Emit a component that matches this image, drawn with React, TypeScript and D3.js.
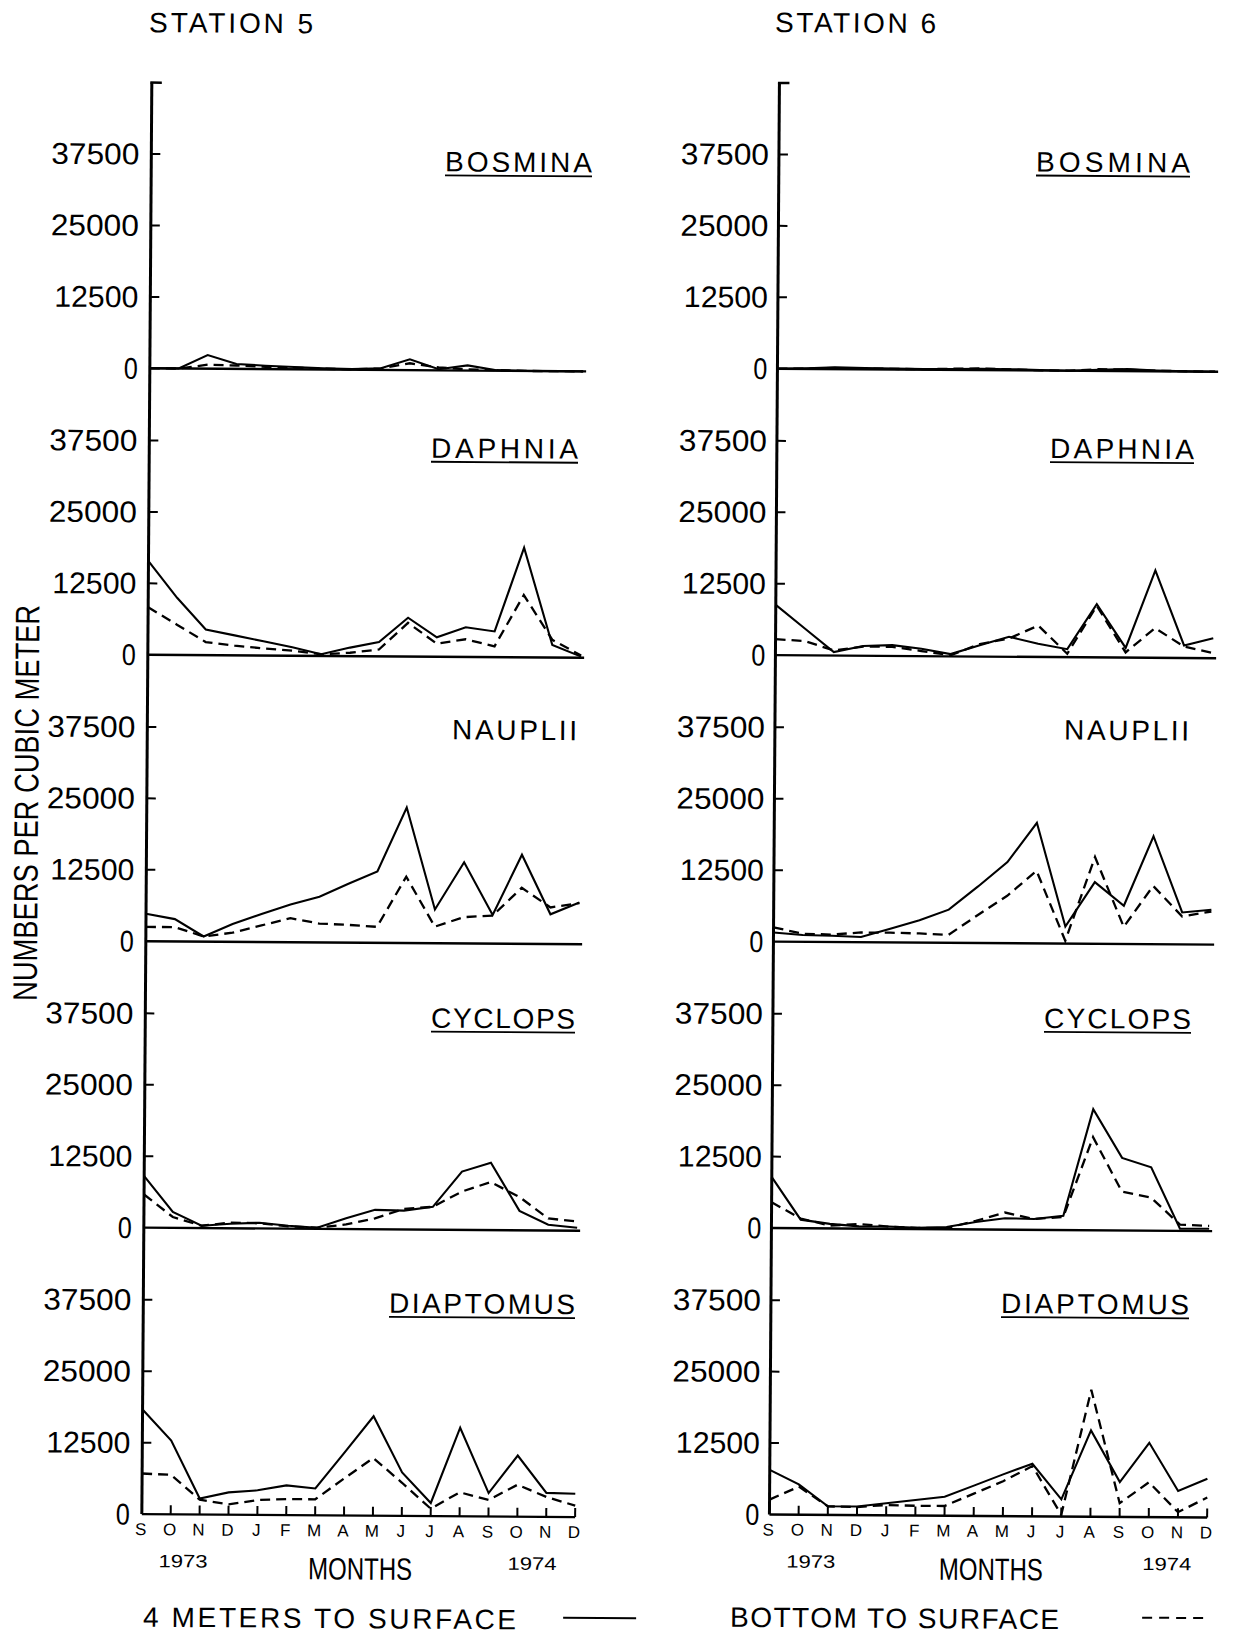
import React from "react";
import * as d3 from "d3";

// ---------- data ----------
const MONTHS = ["S", "O", "N", "D", "J", "F", "M", "A", "M", "J", "J", "A", "S", "O", "N", "D"];
const YEARS = ["1973", "1974"];
const TAXA = ["BOSMINA", "DAPHNIA", "NAUPLII", "CYCLOPS", "DIAPTOMUS"];
const UNDERLINED = [true, true, false, true, true];
const Y_TICKS = [0, 12500, 25000, 37500];
const STATIONS = ["STATION 5", "STATION 6"];
const SERIES_NAMES = ["4 METERS TO SURFACE", "BOTTOM TO SURFACE"];
const AXIS_TITLE = "NUMBERS PER CUBIC METER";
const X_TITLE = "MONTHS";

// Station 5 (solid = 4 m to surface, dashed = bottom to surface)
const s5Bosmina4m = [0, 0, 2400, 850, 600, 400, 200, 100, 300, 1900, 200, 900, 100, 0, 0, 0];
const s5BosminaBot = [0, 0, 700, 600, 400, 300, 150, 50, 250, 1200, 500, 200, 100, 0, 0, 0];
const s5Daphnia4m = [16400, 10000, 4500, 3500, 2500, 1500, 300, 1500, 2500, 6800, 3400, 5200, 4500, 19200, 2200, 200];
const s5DaphniaBot = [8300, 5300, 2300, 1700, 1250, 900, 300, 600, 1200, 5900, 2300, 3100, 1900, 10900, 3100, 400];
const s5Nauplii4m = [4800, 3900, 900, 3100, 4900, 6600, 8000, 10300, 12500, 23700, 5900, 14200, 5000, 15600, 5200, 7300];
const s5NaupliiBot = [2500, 2500, 900, 1600, 2900, 4200, 3300, 3100, 2800, 11600, 2900, 4600, 4900, 9800, 6400, 7200];
const s5Cyclops4m = [9000, 2800, 400, 800, 1000, 500, 200, 1900, 3400, 3300, 4000, 10200, 11800, 3400, 1000, 500];
const s5CyclopsBot = [5800, 1900, 400, 1000, 900, 400, 200, 800, 1900, 3600, 4000, 6700, 8400, 5800, 2100, 1600];
const s5Diaptomus4m = [18300, 12900, 2800, 3900, 4300, 5200, 4700, 11000, 17400, 7600, 2300, 15500, 4100, 10700, 4200, 4100];
const s5DiaptomusBot = [7100, 6900, 2600, 1800, 2600, 2800, 2800, 6500, 10100, 5800, 1300, 4200, 2900, 5600, 3500, 2000];

// Station 6
const s6Bosmina4m = [0, 100, 300, 200, 150, 100, 150, 250, 200, 100, 0, 200, 350, 150, 50, 0];
const s6BosminaBot = [0, 50, 200, 150, 100, 100, 200, 300, 150, 50, 0, 300, 250, 100, 50, 0];
const s6Daphnia4m = [8800, 4700, 600, 1700, 1900, 1300, 400, 2000, 3500, 2300, 1400, 9300, 1700, 15300, 2200, 3500];
const s6DaphniaBot = [2800, 2500, 900, 1600, 1600, 900, 200, 2200, 3200, 5500, 600, 9000, 900, 5200, 2000, 900];
const s6Nauplii4m = [1600, 1200, 1100, 900, 2400, 3900, 5800, 9900, 14200, 21100, 3000, 10800, 6700, 18900, 5600, 6100];
const s6NaupliiBot = [2500, 1400, 1300, 1700, 1700, 1600, 1400, 4900, 8300, 12700, 500, 15200, 3000, 10200, 4900, 5800];
const s6Cyclops4m = [8900, 1500, 800, 400, 400, 200, 400, 1300, 2000, 1900, 2500, 21200, 12700, 11100, 400, 400];
const s6CyclopsBot = [4500, 1700, 500, 800, 400, 200, 200, 1500, 3000, 1900, 2300, 16300, 6800, 5800, 1100, 900];
const s6Diaptomus4m = [7800, 5300, 1500, 1500, 2100, 2700, 3300, 5300, 7300, 9200, 3000, 15100, 6100, 13000, 4600, 6800];
const s6DiaptomusBot = [2600, 4900, 1500, 1400, 1800, 1700, 1700, 3900, 6100, 8800, 300, 22200, 2400, 6100, 900, 3500];

const SERIES = [
  [
    [s5Bosmina4m, s5BosminaBot],
    [s5Daphnia4m, s5DaphniaBot],
    [s5Nauplii4m, s5NaupliiBot],
    [s5Cyclops4m, s5CyclopsBot],
    [s5Diaptomus4m, s5DiaptomusBot],
  ],
  [
    [s6Bosmina4m, s6BosminaBot],
    [s6Daphnia4m, s6DaphniaBot],
    [s6Nauplii4m, s6NaupliiBot],
    [s6Cyclops4m, s6CyclopsBot],
    [s6Diaptomus4m, s6DiaptomusBot],
  ],
];

// ---------- layout ----------
const W = 1238;
const H = 1636;
const ROT = 0.4;
const PANEL_STEP = 286.45;
const SPAN_37500 = 214.3;
const FONT = "'Liberation Sans Narrow', 'Liberation Sans', Arial, sans-serif";
const LABEL_DY = [199, 199, 204, 202, 203];

const LAYOUT = [
  {
    x0: 146.7, x1: 580.0, z0: 371.6, tickLabelGap: 12,
    titleX: 143.6, titleW: 164, titleY: 35.5,
    labelLeft: [440.5, 428.5, 451.5, 432.5, 392.5],
    labelRight: [587.5, 575.5, 576.5, 576.5, 578.5],
    yearX: [188.3, 537.3], monthsX: 365.3,
  },
  {
    x0: 774.3, x1: 1212.0, z0: 367.6, tickLabelGap: 10,
    titleX: 769.6, titleW: 161, titleY: 31.0,
    labelLeft: [1031.5, 1047.5, 1063.5, 1045.5, 1004.5],
    labelRight: [1185.5, 1191.5, 1188.5, 1192.5, 1192.5],
    yearX: [816.1, 1172.0], monthsX: 996.1,
  },
];

function tickWidth(label: string) {
  if (label === "0") return 14;
  return label.length * 17.6 - (label.startsWith("1") ? 4 : 0);
}

function StationPanel({ s }: { s: number }) {
  const L = LAYOUT[s];
  const x = d3.scaleLinear().domain([0, MONTHS.length - 1]).range([L.x0, L.x1]);
  const zero = (p: number) => L.z0 + p * PANEL_STEP;
  const yFor = (p: number) =>
    d3.scaleLinear().domain([0, 37500]).range([zero(p), zero(p) - SPAN_37500]);
  const last = TAXA.length - 1;
  const yTop = yFor(0)(50000);
  const zBottom = zero(last);

  return (
    <g>
      <text x={L.titleX} y={L.titleY} fontSize={28} textLength={L.titleW} lengthAdjust="spacing">
        {STATIONS[s]}
      </text>
      {/* vertical axis */}
      <line x1={L.x0} y1={yTop} x2={L.x0} y2={zBottom} stroke="#000" strokeWidth={3} />
      <line x1={L.x0 - 1.5} y1={yTop} x2={L.x0 + 10} y2={yTop} stroke="#000" strokeWidth={2.5} />
      {TAXA.map((name, p) => {
        const y = yFor(p);
        const line = d3
          .line<number>()
          .x((_, i) => x(i))
          .y((d) => y(d));
        const [solid, dashed] = SERIES[s][p];
        const lw = L.labelRight[p] - L.labelLeft[p];
        const base = zero(p) - LABEL_DY[p];
        return (
          <g key={name}>
            {Y_TICKS.map((t) => (
              <g key={t}>
                {t > 0 && (
                  <line x1={L.x0} y1={y(t)} x2={L.x0 + 9} y2={y(t)} stroke="#000" strokeWidth={2} />
                )}
                <text
                  x={L.x0 - L.tickLabelGap}
                  y={y(t) + 10.5}
                  fontSize={30}
                  textAnchor="end"
                  textLength={tickWidth(String(t))}
                  lengthAdjust="spacingAndGlyphs"
                >
                  {String(t)}
                </text>
              </g>
            ))}
            <line
              x1={L.x0}
              y1={y(0)}
              x2={p === last ? L.x1 : L.x1 + 3}
              y2={y(0)}
              stroke="#000"
              strokeWidth={2.4}
            />
            <path d={line(dashed) || ""} fill="none" stroke="#000" strokeWidth={2.3} strokeDasharray="10,6" />
            <path d={line(solid) || ""} fill="none" stroke="#000" strokeWidth={2.1} strokeLinejoin="miter" />
            <text x={L.labelLeft[p]} y={base} fontSize={28} textLength={lw} lengthAdjust="spacing">
              {name}
            </text>
            {UNDERLINED[p] && (
              <line x1={L.labelLeft[p]} y1={base + 4} x2={L.labelRight[p]} y2={base + 4} stroke="#000" strokeWidth={1.8} />
            )}
          </g>
        );
      })}
      {/* month ticks and labels on the bottom panel */}
      {MONTHS.map((m, i) => (
        <g key={i}>
          {i > 0 && (
            <line x1={x(i)} y1={zBottom} x2={x(i)} y2={zBottom - 9} stroke="#000" strokeWidth={2} />
          )}
          <text x={x(i) - 1} y={zBottom + 21} fontSize={17} textAnchor="middle">
            {m}
          </text>
        </g>
      ))}
      {YEARS.map((yr, k) => (
        <text
          key={yr}
          x={L.yearX[k]}
          y={zBottom + 53}
          fontSize={18}
          textAnchor="middle"
          textLength={49}
          lengthAdjust="spacingAndGlyphs"
        >
          {yr}
        </text>
      ))}
      <text
        x={L.monthsX}
        y={zBottom + 64}
        fontSize={31}
        textAnchor="middle"
        textLength={104}
        lengthAdjust="spacingAndGlyphs"
      >
        {X_TITLE}
      </text>
    </g>
  );
}

export default function App() {
  return (
    <svg
      width={W}
      height={H}
      viewBox={`0 0 ${W} ${H}`}
      style={{ position: "absolute", left: 0, top: 0, background: "#fff" }}
    >
      <rect x={0} y={0} width={W} height={H} fill="#fff" />
      <g transform={`rotate(${ROT} 619 818)`} fontFamily={FONT} fill="#000">
        <StationPanel s={0} />
        <StationPanel s={1} />
        <text
          transform="translate(38,807) rotate(-90)"
          fontSize={34}
          textAnchor="middle"
          textLength={396}
          lengthAdjust="spacingAndGlyphs"
        >
          {AXIS_TITLE}
        </text>
        {/* legend */}
        <text x={148.7} y={1630} fontSize={28} textLength={373} lengthAdjust="spacing">
          {SERIES_NAMES[0]}
        </text>
        <line x1={568.7} y1={1618} x2={641.7} y2={1618} stroke="#000" strokeWidth={2} />
        <text x={735.7} y={1626} fontSize={28} textLength={329} lengthAdjust="spacing">
          {SERIES_NAMES[1]}
        </text>
        <line x1={1147.7} y1={1614} x2={1215.7} y2={1614} stroke="#000" strokeWidth={2} strokeDasharray="10,7" />
      </g>
    </svg>
  );
}
